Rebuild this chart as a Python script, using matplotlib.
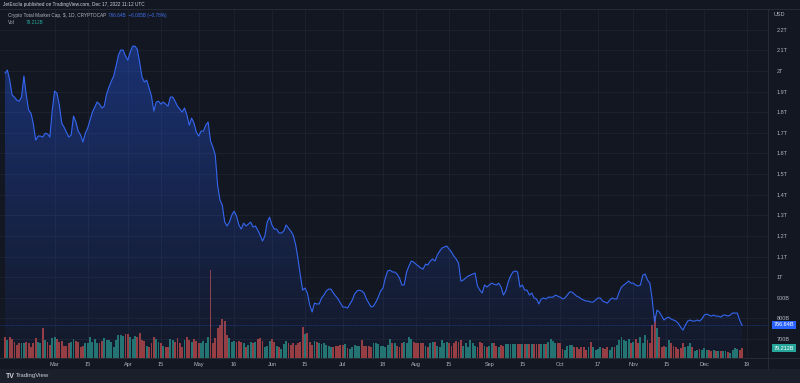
import numpy as np
import pandas as pd
import matplotlib
matplotlib.use('Agg')
import matplotlib.pyplot as plt
import matplotlib.dates as mdates
from matplotlib.patches import Polygon, Rectangle
from matplotlib.colors import LinearSegmentedColormap

plt.rcParams['font.family'] = ['Liberation Sans', 'DejaVu Sans']

# daily total market cap (billions USD), Feb 8 - Dec 17 2022
start_date = '2022-02-08'
price = [1989, 2004, 1955, 1883, 1873, 1858, 1853, 1873, 1975, 1883,
         1810, 1795, 1742, 1664, 1684, 1684, 1679, 1698, 1694, 1679,
         1810, 1902, 1892, 1834, 1747, 1727, 1703, 1679, 1689, 1781,
         1752, 1708, 1689, 1655, 1698, 1723, 1761, 1800, 1824, 1849,
         1839, 1820, 1829, 1887, 1921, 1950, 1975, 2023, 2076, 2101,
         2101, 2072, 2052, 2091, 2120, 2120, 2105, 2042, 1970, 1946,
         1955, 1916, 1878, 1805, 1849, 1853, 1839, 1849, 1839, 1829,
         1873, 1873, 1853, 1829, 1815, 1800, 1820, 1786, 1737, 1771,
         1747, 1703, 1684, 1708, 1708, 1737, 1752, 1660, 1631, 1592,
         1446, 1374, 1349, 1267, 1248, 1267, 1301, 1320, 1296, 1253,
         1233, 1262, 1248, 1257, 1267, 1243, 1248, 1228, 1204, 1175,
         1199, 1267, 1291, 1253, 1233, 1233, 1214, 1214, 1223, 1253,
         1238, 1223, 1204, 1160, 1092, 1010, 937, 947, 923, 865,
         831, 874, 870, 870, 899, 913, 933, 942, 942, 923,
         908, 894, 874, 855, 855, 850, 870, 889, 918, 933,
         937, 933, 923, 894, 874, 855, 860, 879, 903, 933,
         947, 996, 1030, 1034, 1025, 1025, 1015, 996, 962, 962,
         1025, 1054, 1078, 1073, 1063, 1054, 1044, 1039, 1063, 1059,
         1078, 1088, 1078, 1107, 1126, 1141, 1146, 1151, 1136, 1122,
         1102, 1088, 1068, 981, 986, 996, 1005, 1010, 1015, 1020,
         957, 937, 923, 962, 952, 962, 971, 966, 962, 971,
         952, 913, 933, 976, 1005, 1025, 1030, 1025, 952, 962,
         937, 937, 913, 923, 899, 894, 870, 894, 899, 894,
         903, 903, 903, 913, 908, 903, 894, 899, 913, 928,
         928, 918, 908, 903, 894, 889, 884, 884, 879, 879,
         889, 899, 899, 884, 879, 874, 889, 899, 894, 894,
         928, 952, 962, 971, 981, 971, 971, 962, 957, 962,
         1010, 1015, 986, 971, 889, 782, 840, 831, 811, 792,
         802, 806, 797, 792, 787, 777, 758, 743, 767, 787,
         792, 787, 787, 792, 787, 797, 816, 821, 816, 811,
         816, 811, 811, 806, 816, 816, 811, 816, 826, 826,
         826, 792, 766.64]

# daily volume (billions USD)
volume = [171, 144, 165, 149, 131, 104, 117, 123, 117, 131,
          123, 91, 117, 157, 131, 117, 237, 144, 131, 104,
          157, 165, 149, 131, 139, 96, 96, 123, 131, 149,
          139, 131, 91, 96, 117, 117, 165, 131, 149, 123,
          117, 139, 157, 144, 144, 131, 91, 144, 184, 184,
          176, 192, 192, 171, 149, 176, 171, 197, 144, 139,
          96, 91, 117, 165, 149, 131, 117, 96, 85, 91,
          149, 144, 131, 157, 117, 91, 144, 165, 144, 131,
          149, 139, 117, 123, 139, 117, 171, 704, 123, 157,
          237, 264, 309, 299, 184, 157, 131, 139, 131, 139,
          131, 123, 91, 104, 131, 117, 131, 149, 157, 139,
          85, 96, 139, 149, 131, 96, 85, 69, 112, 139,
          117, 104, 117, 104, 117, 131, 245, 192, 203, 131,
          104, 139, 131, 117, 112, 117, 104, 96, 85, 85,
          96, 96, 104, 104, 112, 77, 69, 91, 104, 96,
          96, 144, 96, 96, 96, 91, 117, 117, 112, 96,
          96, 91, 104, 149, 117, 117, 96, 85, 117, 131,
          117, 171, 149, 131, 117, 117, 117, 117, 96, 91,
          117, 131, 131, 96, 91, 144, 117, 131, 123, 96,
          123, 139, 131, 144, 96, 117, 91, 144, 117, 96,
          91, 131, 117, 96, 91, 96, 117, 117, 96, 91,
          104, 96, 112, 112, 112, 112, 112, 112, 112, 112,
          112, 112, 112, 112, 112, 112, 112, 112, 112, 112,
          131, 149, 139, 117, 123, 123, 69, 64, 96, 104,
          104, 91, 91, 69, 91, 91, 64, 91, 131, 91,
          64, 69, 85, 77, 69, 91, 64, 85, 91, 104,
          144, 171, 144, 139, 149, 117, 131, 149, 117, 165,
          123, 184, 144, 123, 264, 336, 237, 171, 91, 96,
          91, 144, 117, 96, 91, 69, 77, 117, 91, 96,
          117, 85, 59, 64, 69, 64, 77, 64, 64, 59,
          64, 59, 59, 59, 59, 59, 51, 43, 64, 77,
          69, 64, 79.212]

price_ticks = [700, 800, 900, 1000, 1100, 1200, 1300, 1400, 1500, 1600,
               1700, 1800, 1900, 2000, 2100, 2200]
price_labels = ['700B', '800B', '900B', '1T', '1.1T', '1.2T', '1.3T', '1.4T', '1.5T',
                '1.6T', '1.7T', '1.8T', '1.9T', '2T', '2.1T', '2.2T']
date_ticks = ['2022-03-01', '2022-03-15', '2022-04-01', '2022-04-15', '2022-05-01',
              '2022-05-16', '2022-06-01', '2022-06-15', '2022-07-01', '2022-07-18',
              '2022-08-01', '2022-08-15', '2022-09-01', '2022-09-15', '2022-10-01',
              '2022-10-17', '2022-11-01', '2022-11-15', '2022-12-01', '2022-12-19']
date_labels = ['Mar', '15', 'Apr', '15', 'May', '16', 'Jun', '15', 'Jul', '18',
               'Aug', '15', 'Sep', '15', 'Oct', '17', 'Nov', '15', 'Dec', '19']

BG = '#131722'
GRID = '#1e2230'
TXT = '#b2b5be'
BLUE = '#2962ff'
UP = '#23756e'
DOWN = '#9a3d3d'

W, H = 800, 383
fig = plt.figure(figsize=(8, 3.83), dpi=100, facecolor=BG)


def fx(px):
    return px / W


def fy(py):
    return 1 - py / H


x = mdates.date2num(pd.date_range(start_date, periods=len(price)))
price = np.array(price)
volume = np.array(volume)

ax = fig.add_axes([0, fy(358), fx(768), fy(9) - fy(358)])
ax.set_facecolor(BG)
ylo, yhi = 608, 2300
x0, x1 = x[0] - 2.12, x[0] + 323
ax.set_xlim(x0, x1)
ax.set_ylim(ylo, yhi)

# grid
for t in price_ticks:
    ax.axhline(t, color=GRID, lw=0.6, zorder=0)
xt = mdates.date2num(pd.to_datetime(date_ticks))
for t in xt:
    ax.axvline(t, color=GRID, lw=0.6, zorder=0)

# volume on an overlay axes
axv = ax.twinx()
axv.set_ylim(0, 349 * 8)
axv.set_xlim(x0, x1)
prev = np.concatenate([[price[0] + 1], price[:-1]])
vcol = [UP if p >= q else DOWN for p, q in zip(price, prev)]
axv.bar(x, volume, width=0.8, color=vcol, linewidth=0, zorder=1)
axv.axis('off')

# area with gradient
ax2 = ax.twinx()
ax2.set_ylim(ylo, yhi)
ax2.set_xlim(x0, x1)
ax2.axis('off')
poly = Polygon([(x[0], ylo)] + list(zip(x, price)) + [(x[-1], ylo)], closed=True,
               facecolor='none', edgecolor='none')
ax2.add_patch(poly)
cmap = LinearSegmentedColormap.from_list('g', [(0.16, 0.38, 1.0, 0.03), (0.16, 0.38, 1.0, 0.36)])
grad = np.linspace(0, 1, 256).reshape(-1, 1)
im = ax2.imshow(grad, extent=[x0, x1, ylo, price.max()], origin='lower', aspect='auto',
                cmap=cmap, zorder=1)
im.set_clip_path(poly)
ax2.plot(x, price, color='#3466f0', lw=0.8, zorder=3)
ax2.axhline(price[-1], color=BLUE, lw=0.5, ls=(0, (1, 1.5)), alpha=0.7, zorder=2)
ax2.set_ylim(ylo, yhi)
ax2.set_xlim(x0, x1)

# axes styling
ax.set_yticks(price_ticks)
ax.set_yticklabels(price_labels)
ax.yaxis.tick_right()
ax.set_xticks(xt)
ax.set_xticklabels(date_labels)
ax.tick_params(axis='both', length=0, labelsize=4.0, colors=TXT)
ax.tick_params(axis='y', pad=6)
ax.tick_params(axis='x', pad=3)
for a in (ax, axv, ax2):
    for s in a.spines.values():
        s.set_visible(False)

# frame lines
fig.add_artist(plt.Line2D([fx(768), fx(768)], [fy(9), fy(369)], color='#2a2e39', lw=0.6))
fig.add_artist(plt.Line2D([0, 1], [fy(358), fy(358)], color='#2a2e39', lw=0.6))
fig.add_artist(plt.Line2D([0, 1], [fy(9), fy(9)], color='#2a2e39', lw=0.6))
fig.add_artist(Rectangle((0, 0), 1, fy(369), transform=fig.transFigure,
                         facecolor='#1b1f2b', edgecolor='none'))

# right axis extras
fig.text(fx(774), fy(15), 'USD', fontsize=4.0, color=TXT, va='center')
fig.text(fx(784), fy(325), '766.64B', fontsize=4.0, color='white', va='center', ha='center',
         bbox=dict(boxstyle='square,pad=0.35', fc=BLUE, ec='none'))
fig.text(fx(784), fy(348), '79.212B', fontsize=4.0, color='white', va='center', ha='center',
         bbox=dict(boxstyle='square,pad=0.35', fc='#26a69a', ec='none'))

# header and legend
fig.text(fx(3), fy(4.5), 'JetExcila published on TradingView.com, Dec 17, 2022 11:12 UTC',
         fontsize=3.4, color='#d1d4dc', va='center')
fig.text(fx(8), fy(15), 'Crypto Total Market Cap, $, 1D, CRYPTOCAP', fontsize=3.4,
         color=TXT, va='center')
fig.text(fx(108), fy(15), '766.64B  \u22126.005B (\u22120.78%)', fontsize=3.4,
         color='#3f6fe8', va='center')
fig.text(fx(8), fy(23), 'Vol', fontsize=3.4, color=TXT, va='center')
fig.text(fx(26), fy(23), '79.212B', fontsize=3.4, color='#26a69a', va='center')

# logo
fig.text(fx(6), fy(376), 'TV', fontsize=5, color='#d1d4dc', va='center', fontweight='bold')
fig.text(fx(16), fy(376), 'TradingView', fontsize=4.3, color='#d1d4dc', va='center')

fig.savefig('out.png', dpi=100, facecolor=BG)
